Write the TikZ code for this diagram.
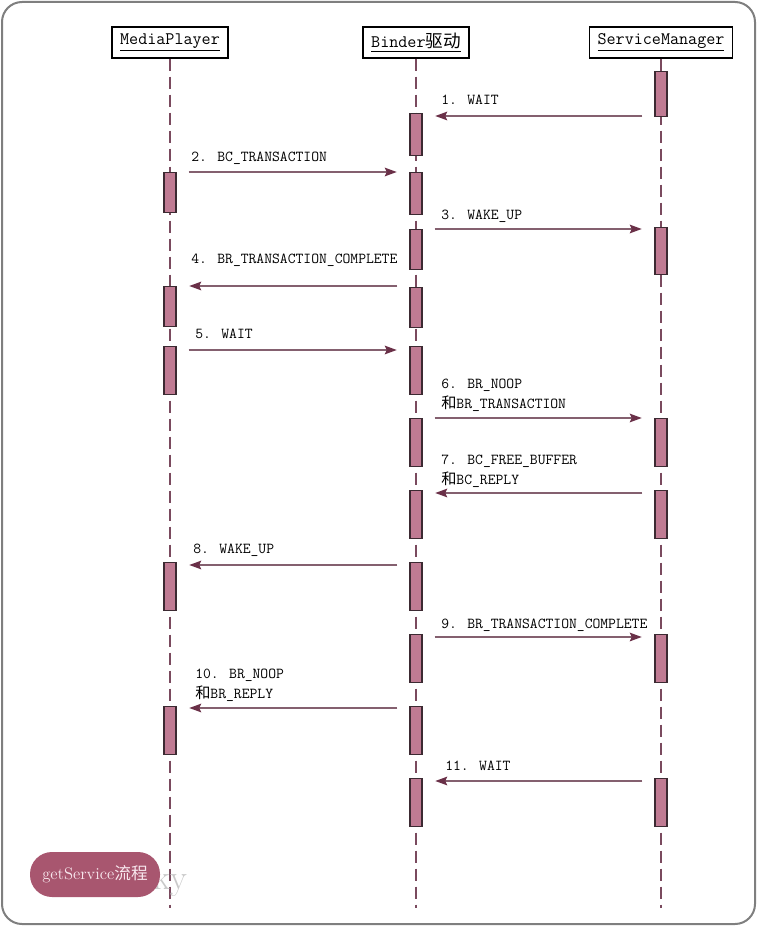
\documentclass[tikz,border=0pt]{standalone}
\usepackage{fontspec}
\usepackage{xcolor}
\usetikzlibrary{arrows.meta,calc}
\newfontfamily\cjk{Noto Sans CJK SC}
\definecolor{frameGray}{HTML}{7F7F7F}
\definecolor{lifeMaroon}{HTML}{7A4A5E}
\definecolor{barFill}{HTML}{C07B93}
\definecolor{barEdge}{HTML}{3C2A32}
\definecolor{msgMaroon}{HTML}{84606F}
\definecolor{tipMaroon}{HTML}{6A3048}
\definecolor{pillFill}{HTML}{A8566F}
\definecolor{pillText}{HTML}{F8E8EE}
\definecolor{markGray}{HTML}{C9C9C9}
\tikzset{
  frame/.style={
    draw=frameGray,
    line width=1.5pt,
    rounded corners=15pt
  },
  head box/.style={
    draw=black,
    fill=white,
    line width=1.1pt,
    inner xsep=6pt,
    minimum height=23.25pt,
    font=\fontsize{13.2}{15}\selectfont\ttfamily
  },
  life line/.style={
    draw=lifeMaroon,
    line width=1.1pt,
    dash pattern=on 9pt off 4.5pt
  },
  act bar/.style={
    draw=barEdge,
    fill=barFill,
    line width=0.9pt,
    minimum width=9pt,
    inner sep=0pt,
    anchor=north
  },
  msg edge/.style={
    -{Stealth[length=9pt,width=6.5pt,inset=1.5pt,color=tipMaroon]},
    draw=msgMaroon,
    line width=0.9pt,
    shorten <=9pt,
    shorten >=9.5pt
  },
  msg text/.style={
    anchor=south west,
    inner sep=0pt,
    text depth=0pt,
    align=left,
    font=\fontsize{11.4}{15}\selectfont\ttfamily
  },
  tag pill/.style={
    fill=pillFill,
    rounded corners=16.5pt,
    minimum width=97.5pt,
    minimum height=33.75pt,
    text=pillText,
    font=\fontsize{12.5}{15}\selectfont
  },
  water mark/.style={
    anchor=base west,
    inner sep=0pt,
    text=markGray,
    font=\fontsize{26}{30}\selectfont
  }
}
\begin{document}
\begin{tikzpicture}[x=0.75pt,y=-0.75pt]
  \useasboundingbox (0,0) rectangle (757,927);
  \draw[frame] (2,2) rectangle (755,924);

  \node[head box] (mp) at (170,42.5) {\underline{MediaPlayer}};
  \node[head box] (bd) at (416,42.5) {\underline{Binder{\cjk 驱动}}};
  \node[head box] (sm) at (661,42.5) {\underline{ServiceManager}};
  \coordinate (mpEnd) at (170,908);
  \coordinate (bdEnd) at (416,908);
  \coordinate (smEnd) at (661,908);
  \draw[life line] (mp) -- (mpEnd);
  \draw[life line] (bd) -- (bdEnd);
  \draw[life line] (sm) -- (smEnd);

  \node[act bar,minimum height=33.75pt] (s1) at (661,71) {};
  \node[act bar,minimum height=31.5pt] (b1) at (416,113) {};
  \node[act bar,minimum height=30pt] (m2) at (170,172) {};
  \node[act bar,minimum height=31.5pt] (b2) at (416,172) {};
  \node[act bar,minimum height=30pt] (b3) at (416,229) {};
  \node[act bar,minimum height=35.25pt] (s3) at (661,227) {};
  \node[act bar,minimum height=30pt] (m4) at (170,286) {};
  \node[act bar,minimum height=30pt] (b4) at (416,287) {};
  \node[act bar,minimum height=36pt] (m5) at (170,346) {};
  \node[act bar,minimum height=36pt] (b5) at (416,346) {};
  \node[act bar,minimum height=36pt] (b6) at (416,418) {};
  \node[act bar,minimum height=36pt] (s6) at (661,418) {};
  \node[act bar,minimum height=36pt] (b7) at (416,490) {};
  \node[act bar,minimum height=36pt] (s7) at (661,490) {};
  \node[act bar,minimum height=36pt] (m8) at (170,562) {};
  \node[act bar,minimum height=36pt] (b8) at (416,562) {};
  \node[act bar,minimum height=36pt] (b9) at (416,634) {};
  \node[act bar,minimum height=36pt] (s9) at (661,634) {};
  \node[act bar,minimum height=36pt] (m10) at (170,706) {};
  \node[act bar,minimum height=36pt] (b10) at (416,706) {};
  \node[act bar,minimum height=36pt] (b11) at (416,778) {};
  \node[act bar,minimum height=36pt] (s11) at (661,778) {};

  \draw[msg edge] ($(s1.west |- b1.north)+(0,3)$) -- ($(b1.north east)+(0,3)$);
  \draw[msg edge] (m2.north east) -- (b2.north west);
  \draw[msg edge] ($(b3.east |- s3.north)+(0,2)$) -- ($(s3.north west)+(0,2)$);
  \draw[msg edge] (b4.west |- m4.north) -- (m4.north east);
  \draw[msg edge] ($(m5.north east)+(0,4)$) -- ($(b5.north west)+(0,4)$);
  \draw[msg edge] (b6.north east) -- (s6.north west);
  \draw[msg edge] ($(s7.north west)+(0,3)$) -- ($(b7.north east)+(0,3)$);
  \draw[msg edge] ($(b8.north west)+(0,3)$) -- ($(m8.north east)+(0,3)$);
  \draw[msg edge] ($(b9.north east)+(0,3)$) -- ($(s9.north west)+(0,3)$);
  \draw[msg edge] ($(b10.north west)+(0,2)$) -- ($(m10.north east)+(0,2)$);
  \draw[msg edge] ($(s11.north west)+(0,3)$) -- ($(b11.north east)+(0,3)$);

  \node[msg text] (t1) at (441,105) {1. WAIT};
  \node[msg text] (t2) at (191,162) {2. BC\_TRANSACTION};
  \node[msg text] (t3) at (441,220) {3. WAKE\_UP};
  \node[msg text] (t4) at (191,264) {4. BR\_TRANSACTION\_COMPLETE};
  \node[msg text] (t5) at (195,339) {5. WAIT};
  \node[msg text] (t6) at (441,409) {6. BR\_NOOP\\{\cjk 和}BR\_TRANSACTION};
  \node[msg text] (t7) at (441,485) {7. BC\_FREE\_BUFFER\\{\cjk 和}BC\_REPLY};
  \node[msg text] (t8) at (193,554) {8. WAKE\_UP};
  \node[msg text] (t9) at (441,629) {9. BR\_TRANSACTION\_COMPLETE};
  \node[msg text] (t10) at (195,699) {10. BR\_NOOP\\{\cjk 和}BR\_REPLY};
  \node[msg text] (t11) at (445,771) {11. WAIT};

  \node[water mark] (mark) at (153,889) {ky};
  \node[tag pill] (tag) at (95,874.5) {getService{\cjk 流程}};
\end{tikzpicture}
\end{document}
